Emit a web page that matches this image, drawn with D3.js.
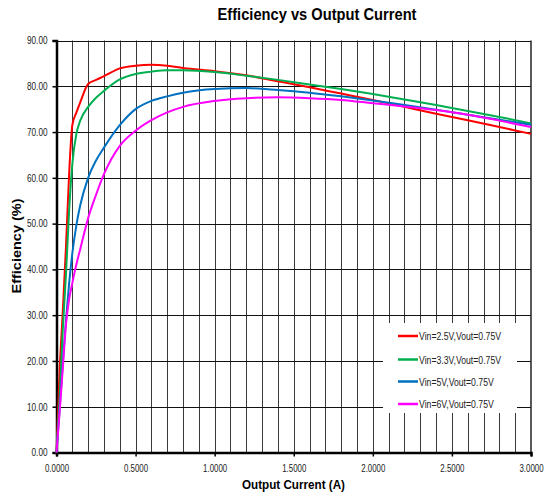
<!DOCTYPE html>
<html>
<head>
<meta charset="utf-8">
<script src="https://cdn.jsdelivr.net/npm/d3@7"></script>
<style>
  html, body { margin: 0; padding: 0; background: #fff; }
  svg { display: block; }
  text { font-family: "Liberation Sans", Arial, sans-serif; }
</style>
</head>
<body>
<svg id="chart" width="546" height="503"></svg>
<script>
// Output current (A) sample points shared by all curves
const current = [0, 0.02, 0.04, 0.06, 0.08, 0.10, 0.125, 0.15, 0.2, 0.25, 0.3, 0.4, 0.5, 0.6, 0.7, 0.8,
                 1.0, 1.2, 1.4, 1.6, 1.8, 2.0, 2.2, 2.4, 2.6, 2.8, 3.0];

// Efficiency (%) per input voltage
const eff25 = [0, 18, 31, 45, 61, 71.5, 74.2, 76.5, 80.5, 81.4, 82.2, 83.9, 84.5, 84.7, 84.5, 84.0,
               83.3, 82.4, 81.1, 79.8, 78.4, 77.0, 75.5, 74.0, 72.6, 71.1, 69.6];
const eff33 = [0, 12, 27, 39, 53, 63, 69.5, 72.5, 75.5, 77.5, 79.0, 81.5, 82.7, 83.2, 83.5, 83.5,
               83.1, 82.3, 81.4, 80.4, 79.4, 78.3, 77.1, 75.9, 74.6, 73.3, 71.9];
const eff5  = [0, 9.5, 19.5, 29, 37, 43.5, 49.5, 54, 60, 63.8, 66.6, 71.5, 75.0, 76.8, 77.8, 78.6,
               79.4, 79.6, 79.2, 78.6, 77.8, 76.9, 75.9, 74.9, 73.8, 72.7, 71.6];
const eff6  = [0, 9, 18.5, 28, 33.5, 37, 41, 44.4, 51.2, 56.3, 60.8, 67, 70.3, 72.6, 74.3, 75.5,
               76.8, 77.4, 77.6, 77.4, 77.0, 76.3, 75.6, 74.8, 73.8, 72.5, 71.1];

const seriesNames  = ["Vin=2.5V,Vout=0.75V", "Vin=3.3V,Vout=0.75V", "Vin=5V,Vout=0.75V", "Vin=6V,Vout=0.75V"];
const seriesValues = [eff25, eff33, eff5, eff6];
const seriesColors = ["#ff0000", "#00b050", "#0070c0", "#ff00ff"];

const xTicks = [0, 0.5, 1.0, 1.5, 2.0, 2.5, 3.0];
const yTicks = [0, 10, 20, 30, 40, 50, 60, 70, 80, 90];
const xGrid  = d3.range(1, 30).map(i => i / 10);

const svg = d3.select("#chart");
const plot = { left: 56.5, right: 531, top: 40.5, bottom: 452.5 };

const x = d3.scaleLinear().domain([0, 3]).range([plot.left, plot.right]);
const y = d3.scaleLinear().domain([0, 90]).range([plot.bottom, plot.top]);

// Narrow the glyphs of a text group so a reference string takes the given width
function condense(sel, factor) {
  sel.each(function () {
    const w = this.getComputedTextLength();
    d3.select(this).attr("textLength", w * factor).attr("lengthAdjust", "spacingAndGlyphs");
  });
}

// Vertical grid every 0.1 A
svg.append("g")
  .selectAll("line")
  .data(xGrid)
  .join("line")
  .attr("x1", d => Math.round(x(d)) + 0.5).attr("x2", d => Math.round(x(d)) + 0.5)
  .attr("y1", plot.top).attr("y2", plot.bottom)
  .attr("stroke", "#3a3a3a").attr("stroke-width", 1);

// Horizontal grid every 10 %
svg.append("g")
  .selectAll("line")
  .data(yTicks.filter(d => d > 0))
  .join("line")
  .attr("x1", plot.left).attr("x2", plot.right)
  .attr("y1", d => Math.round(y(d)) + 0.5).attr("y2", d => Math.round(y(d)) + 0.5)
  .attr("stroke", "#111").attr("stroke-width", 1);

// Right border
svg.append("line")
  .attr("x1", plot.right).attr("x2", plot.right)
  .attr("y1", plot.top).attr("y2", plot.bottom)
  .attr("stroke", "#222").attr("stroke-width", 1.5);

// Y axis
const yAxis = svg.append("g")
  .attr("transform", `translate(${plot.left},0)`)
  .call(d3.axisLeft(y).tickValues(yTicks).tickFormat(d3.format(".2f")).tickSize(4).tickPadding(5));
yAxis.select(".domain").attr("stroke", "#000").attr("stroke-width", 2.5);
yAxis.selectAll(".tick line").attr("stroke", "#000").attr("stroke-width", 1.5);
yAxis.selectAll("text").attr("font-size", 10.5).attr("fill", "#222")
  .style("font-family", '"Liberation Sans", Arial, sans-serif');

// X axis
const xAxis = svg.append("g")
  .attr("transform", `translate(0,${plot.bottom})`)
  .call(d3.axisBottom(x).tickValues(xTicks).tickFormat(d3.format(".4f")).tickSize(4).tickPadding(8));
xAxis.select(".domain").attr("stroke", "#000").attr("stroke-width", 2.5);
xAxis.selectAll(".tick line").attr("stroke", "#000").attr("stroke-width", 1.5);
xAxis.selectAll("text").attr("font-size", 10.5).attr("fill", "#222")
  .style("font-family", '"Liberation Sans", Arial, sans-serif');

condense(yAxis.selectAll("text"), 0.78);
condense(xAxis.selectAll("text"), 0.75);

// Efficiency curves
const line = d3.line()
  .x((d, i) => x(current[i]))
  .y(d => y(d))
  .curve(d3.curveMonotoneX);

svg.append("g")
  .selectAll("path")
  .data(seriesValues)
  .join("path")
  .attr("d", d => line(d))
  .attr("fill", "none")
  .attr("stroke", (d, i) => seriesColors[i])
  .attr("stroke-width", 2);

// Legend
const legend = svg.append("g");
legend.append("rect")
  .attr("x", 383).attr("y", 323).attr("width", 134).attr("height", 90)
  .attr("fill", "#fff");
const legendRows = [336, 359.5, 381.5, 404];
seriesNames.forEach((name, i) => {
  legend.append("line")
    .attr("x1", 398).attr("x2", 418)
    .attr("y1", legendRows[i]).attr("y2", legendRows[i])
    .attr("stroke", seriesColors[i]).attr("stroke-width", 2.5);
  legend.append("text")
    .attr("x", 419).attr("y", legendRows[i] + 4)
    .attr("font-size", 10).attr("fill", "#222")
    .text(name);
});
const legendTexts = legend.selectAll("text");
const firstLen = legendTexts.node().getComputedTextLength();
condense(legendTexts, 82 / firstLen);

// Titles
const title = svg.append("text")
  .attr("x", 317).attr("y", 20)
  .attr("text-anchor", "middle")
  .attr("font-size", 17).attr("font-weight", "bold").attr("fill", "#000")
  .text("Efficiency vs Output Current");
title.attr("textLength", 199).attr("lengthAdjust", "spacingAndGlyphs");

svg.append("text")
  .attr("x", 293.5).attr("y", 489)
  .attr("text-anchor", "middle")
  .attr("font-size", 13.5).attr("font-weight", "bold").attr("fill", "#000")
  .attr("textLength", 103).attr("lengthAdjust", "spacingAndGlyphs")
  .text("Output Current (A)");

svg.append("text")
  .attr("transform", "translate(21,246) rotate(-90)")
  .attr("text-anchor", "middle")
  .attr("font-size", 13.5).attr("font-weight", "bold").attr("fill", "#000")
  .attr("textLength", 95).attr("lengthAdjust", "spacingAndGlyphs")
  .text("Efficiency (%)");
</script>
</body>
</html>
